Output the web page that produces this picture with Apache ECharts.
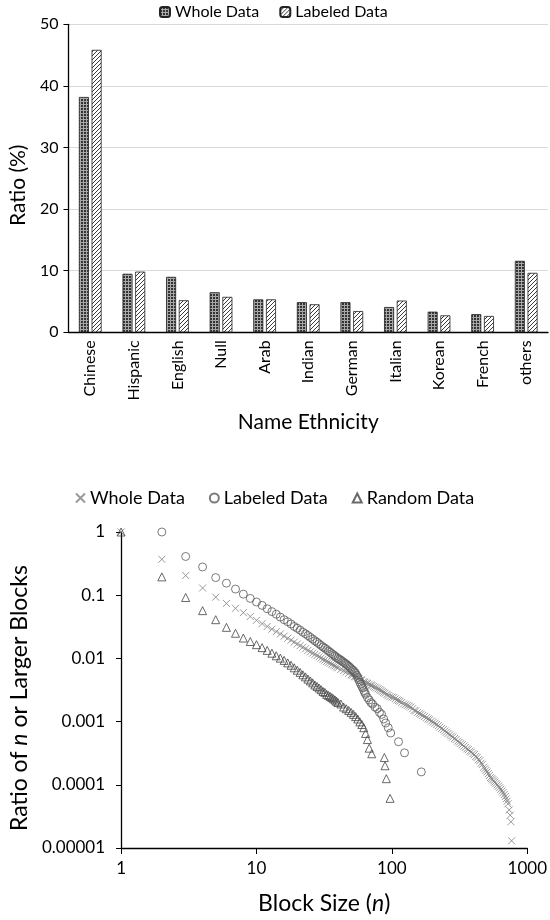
<!DOCTYPE html>
<html><head><meta charset="utf-8">
<script src="https://cdn.jsdelivr.net/npm/echarts@6/dist/echarts.min.js"></script>
<style>
html,body{margin:0;padding:0;background:#fff;}
#c1{position:absolute;left:0;top:0;width:550px;height:460px;}
#c2{position:absolute;left:0;top:460px;width:550px;height:460px;}
</style>
</head><body><div id="c1"></div><div id="c2"></div>
<script>
// ---------- top chart data ----------
const categories = ['Chinese','Hispanic','English','Null','Arab','Indian','German','Italian','Korean','French','others'];
const wholeRatio   = [38.2, 9.5, 9.0, 6.5, 5.35, 4.9, 4.9, 4.1, 3.35, 2.95, 11.6];
const labeledRatio = [45.85, 9.85, 5.2, 5.75, 5.35, 4.55, 3.45, 5.15, 2.75, 2.65, 9.65];
const ratioTicks = [0, 10, 20, 30, 40, 50];

// ---------- bottom chart data: [block size n, ratio of n or larger blocks] ----------
const wholeBlocks = [
[1,1],[2,0.37],[3,0.205],[4,0.13],[5,0.093],[6,0.074],[7,0.062],[8,0.053],[9,0.046],[10,0.040],
[11,0.0355],[12,0.032],[13,0.029],[14,0.0265],[15,0.0243],[16,0.0225],[17,0.0208],[18,0.0194],[19,0.0181],[20,0.0169],
[21,0.0159],[22,0.015],[23,0.0142],[24,0.0134],[25,0.0127],[26,0.0121],[27,0.0116],[28,0.0111],[29,0.0106],[30,0.0101],
[31,0.0097],[32,0.0094],[33,0.009],[34,0.0087],[35,0.0084],[36,0.0081],[37,0.0078],[38,0.0076],[39,0.0073],[40,0.0071],
[42,0.0067],[44,0.0064],[46,0.0061],[48,0.0058],[50,0.0055],[51,0.0054],[53,0.0052],[54,0.0051],[56,0.0049],[57,0.0048],
[59,0.0046],[60,0.0045],[62,0.0043],[63,0.0042],[65,0.0041],[66,0.004],[68,0.0039],[70,0.0038],[71,0.0037],[73,0.0036],
[75,0.0035],[77,0.0034],[79,0.0033],[81,0.0032],[83,0.0031],[85,0.003],[87,0.0029],[89,0.0028],[92,0.0027],[94,0.0026],
[97,0.0025],[100,0.00245],[103,0.0024],[106,0.0023],[109,0.0022],[112,0.00215],[115,0.0021],[118,0.002],[122,0.0019],[126,0.00185],
[130,0.0018],[134,0.00175],[138,0.0017],[142,0.0016],[146,0.0015],[150,0.00148],[155,0.0014],[160,0.00135],[164,0.0013],[169,0.00125],
[174,0.0012],[180,0.00115],[185,0.0011],[190,0.00107],[196,0.00102],[202,0.00098],[208,0.00094],[214,0.0009],[220,0.00086],[226,0.00082],
[233,0.00078],[240,0.00075],[246,0.00071],[253,0.00068],[260,0.00065],[268,0.00062],[275,0.00059],[282,0.00057],[290,0.00054],[298,0.00052],
[306,0.00049],[314,0.00047],[323,0.00045],[331,0.00043],[340,0.00041],[349,0.00039],[358,0.00037],[367,0.00036],[377,0.00034],[386,0.00033],
[396,0.00031],[406,0.0003],[416,0.00028],[426,0.00027],[436,0.00025],[446,0.00024],[456,0.00022],[466,0.00021],[476,0.00019],[486,0.00018],
[496,0.00017],[505,0.00016],[515,0.00015],[525,0.00014],[535,0.00013],[545,0.000125],[555,0.00012],[565,0.000115],[575,0.00011],[588,0.000105],
[600,0.0001],[612,0.000095],[625,0.00009],[638,0.000085],[650,0.00008],[662,0.000075],[675,0.00007],[688,0.000065],[700,0.00006],[710,0.000055],
[720,0.00005],[735,0.00004],[748,0.000033],[757,0.000026],[766,0.000013]
];
const labeledBlocks = [
[2,1.0],[3,0.41],[4,0.28],[5,0.19],[6,0.155],[7,0.125],[8,0.104],[9,0.089],[10,0.078],
[11,0.069],[12,0.061],[13,0.055],[14,0.05],[15,0.045],[16,0.041],[17,0.038],[18,0.035],[19,0.032],[20,0.03],
[21,0.028],[22,0.026],[23,0.0245],[24,0.023],[25,0.0215],[26,0.0202],[27,0.019],[28,0.018],[29,0.017],[30,0.016],
[31,0.0152],[32,0.0145],[33,0.0138],[34,0.0131],[35,0.0125],[36,0.0119],[37,0.0114],[38,0.0109],[39,0.0104],[40,0.01],
[41,0.0097],[42,0.0094],[43,0.009],[44,0.0087],[45,0.0084],[46,0.0081],[47,0.0078],[48,0.0075],[49,0.0072],[50,0.0069],
[51,0.0066],[52,0.0064],[53,0.0061],[54,0.0058],[55,0.0054],[56,0.005],[57,0.0046],[58,0.0042],[59,0.0039],[60,0.0036],
[61,0.0034],[62,0.0031],[63,0.0029],[64,0.0027],[66,0.0024],[68,0.0022],[70,0.002],[72,0.0019],[75,0.0017],[78,0.0016],
[81,0.0014],[84,0.0013],[87,0.0011],[90,0.00095],[94,0.0008],[98,0.00066],[112,0.00048],[124,0.00032],[165,0.00016]
];
const randomBlocks = [
[1,1],[2,0.195],[3,0.092],[4,0.057],[5,0.041],[6,0.031],[7,0.025],[8,0.021],[9,0.0185],[10,0.0165],
[11,0.0148],[12,0.0134],[13,0.0121],[14,0.011],[15,0.0101],[16,0.0093],[17,0.0085],[18,0.0078],[19,0.0071],[20,0.0065],
[21,0.006],[22,0.0055],[23,0.0051],[24,0.0047],[25,0.0044],[26,0.0041],[27,0.0038],[28,0.0036],[29,0.0034],[30,0.0032],
[31,0.003],[32,0.0029],[33,0.0027],[34,0.0026],[35,0.0025],[36,0.0024],[37,0.0023],[38,0.0022],[39,0.0021],[40,0.002],
[42,0.0019],[44,0.0017],[46,0.0016],[48,0.0015],[50,0.0014],[52,0.0013],[54,0.0012],[56,0.0011],[58,0.00099],[60,0.0009],
[62,0.0008],[64,0.00065],[66,0.00052],[68,0.00038],[71,0.00031],[88,0.00027],[89,0.0002],[91,0.000125],[97,0.000061]
];
const xTickLabels = ['1','10','100','1000'];
const yTickLabels = ['0.00001','0.0001','0.001','0.01','0.1','1'];

// ---------- patterns ----------
function dotPattern(){
  const c = document.createElement('canvas'); c.width = 3; c.height = 3;
  const g = c.getContext('2d');
  g.fillStyle = '#a8a8a8'; g.fillRect(0,0,3,3);
  g.fillStyle = '#333333'; g.fillRect(0,0,2,2);
  return c;
}
function hatchPattern(){
  const c = document.createElement('canvas'); c.width = 4; c.height = 4;
  const g = c.getContext('2d');
  g.fillStyle = '#ffffff'; g.fillRect(0,0,4,4);
  g.fillStyle = '#3a3a3a';
  for (let i = 0; i < 4; i++) g.fillRect(i, 3 - i, 1, 1);
  return c;
}

const FONT = 'Lato';
const chart1 = echarts.init(document.getElementById('c1'));
chart1.setOption({
  animation: false,
  textStyle: {fontFamily: FONT},
  legend: {
    left: 154, top: -1, itemWidth: 10, itemHeight: 10, itemGap: 20,
    textStyle: {fontSize: 16, color: '#000', fontFamily: FONT},
    data: ['Whole Data', 'Labeled Data']
  },
  grid: {left: 57, right: 2, top: 24.3, bottom: 127.7},
  xAxis: {
    type: 'category', data: categories,
    axisLine: {lineStyle: {color: '#000', width: 1.3}},
    axisTick: {show: false},
    axisLabel: {rotate: 90, fontSize: 16, color: '#000', margin: 8, interval: 0, fontFamily: FONT},
    name: 'Name Ethnicity', nameLocation: 'middle', nameGap: 79,
    nameTextStyle: {fontSize: 21, color: '#000', fontFamily: FONT}
  },
  yAxis: {
    type: 'value', min: ratioTicks[0], max: ratioTicks[ratioTicks.length - 1], interval: ratioTicks[1] - ratioTicks[0],
    axisLine: {show: true, lineStyle: {color: '#000', width: 1.3}},
    axisTick: {show: true, length: 5, lineStyle: {color: '#000'}},
    axisLabel: {fontSize: 16, color: '#000', margin: 10, fontFamily: FONT},
    splitLine: {lineStyle: {color: '#d9d9d9'}},
    name: 'Ratio (%)', nameLocation: 'middle', nameGap: 35,
    nameTextStyle: {fontSize: 21, color: '#000', fontFamily: FONT, padding: [0, 14, 0, 0]}
  },
  series: [
    {type: 'bar', name: 'Whole Data', data: wholeRatio, barWidth: 10, barGap: '27%',
     itemStyle: {color: {image: dotPattern(), repeat: 'repeat'}, borderColor: '#222', borderWidth: 0.8}},
    {type: 'bar', name: 'Labeled Data', data: labeledRatio, barWidth: 10, barGap: '27%',
     itemStyle: {color: {image: hatchPattern(), repeat: 'repeat'}, borderColor: '#222', borderWidth: 0.8}}
  ]
});

const chart2 = echarts.init(document.getElementById('c2'));
const CROSS = 'path://M0,0L10,10M10,0L0,10';
const richName = {a: {fontSize: 23, fontFamily: FONT, color: '#000'}, i: {fontSize: 23, fontFamily: FONT, fontStyle: 'italic', color: '#000'}};
chart2.setOption({
  animation: false,
  textStyle: {fontFamily: FONT},
  legend: {
    left: 70, top: 24, itemWidth: 9, itemHeight: 9, itemGap: 24,
    textStyle: {fontSize: 18, color: '#000', fontFamily: FONT},
    data: ['Whole Data', 'Labeled Data', 'Random Data']
  },
  grid: {left: 117.3, right: 21.7, top: 72, bottom: 66.7},
  xAxis: {
    type: 'log', logBase: 10, min: 1, max: 1000,
    axisLine: {lineStyle: {color: '#000', width: 1.3}},
    axisTick: {show: true, length: 6, lineStyle: {color: '#000'}},
    minorTick: {show: false},
    splitLine: {show: false},
    axisLabel: {fontSize: 17, color: '#000', margin: 12, fontFamily: FONT,
      formatter: v => xTickLabels[Math.round(Math.log10(v))]},
    name: '{a|Block Size (}{i|n}{a|)}', nameLocation: 'middle', nameGap: 44,
    nameTextStyle: {fontSize: 23, color: '#000', fontFamily: FONT, rich: richName}
  },
  yAxis: {
    type: 'log', logBase: 10, min: 0.00001, max: 1,
    axisLine: {show: true, lineStyle: {color: '#000', width: 1.3}},
    axisTick: {show: true, length: 5, lineStyle: {color: '#000'}},
    minorTick: {show: false},
    splitLine: {show: false},
    axisLabel: {fontSize: 17, color: '#000', margin: 16, fontFamily: FONT,
      formatter: v => yTickLabels[Math.round(Math.log10(v)) + 5]},
    name: '{a|Ratio of }{i|n}{a| or Larger Blocks}', nameLocation: 'middle', nameGap: 90,
    nameTextStyle: {fontSize: 23, color: '#000', fontFamily: FONT, rich: richName, padding: [0, 16, 0, 0]}
  },
  series: [
    {type: 'scatter', name: 'Whole Data', data: wholeBlocks, symbol: CROSS, symbolSize: 7,
     itemStyle: {color: 'rgba(255,255,255,0)', borderColor: '#808080', borderWidth: 1}},
    {type: 'scatter', name: 'Labeled Data', data: labeledBlocks, symbol: 'circle', symbolSize: 8,
     itemStyle: {color: 'rgba(255,255,255,0)', borderColor: '#5a5a5a', borderWidth: 1}},
    {type: 'scatter', name: 'Random Data', data: randomBlocks, symbol: 'triangle', symbolSize: 8,
     itemStyle: {color: 'rgba(255,255,255,0)', borderColor: '#444', borderWidth: 1}}
  ]
});
</script>
</body></html>
